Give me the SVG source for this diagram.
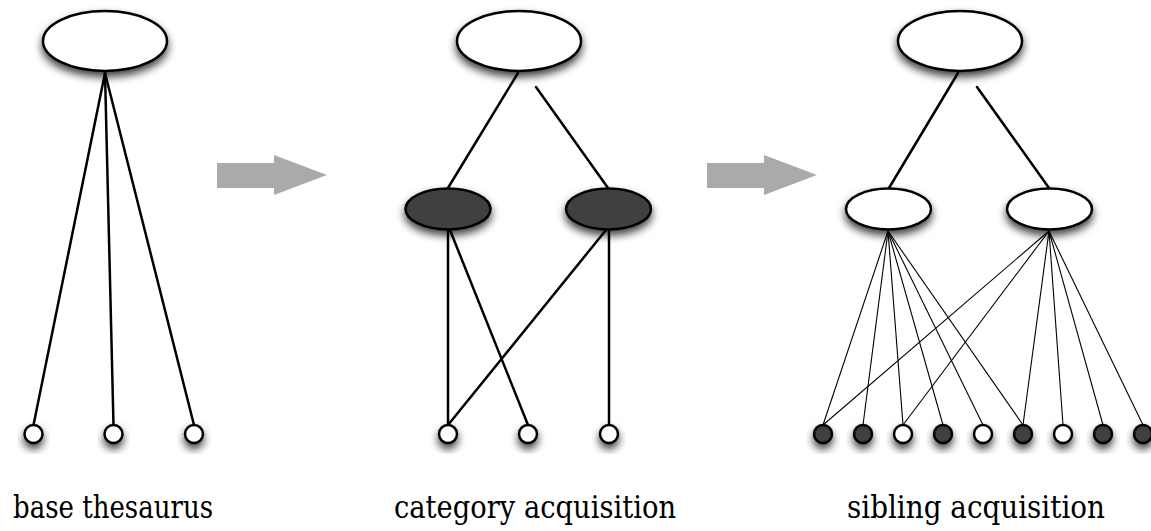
<svg xmlns="http://www.w3.org/2000/svg" width="1151" height="531" viewBox="0 0 1151 531">
  <defs>
    <filter id="shadow" x="-40%" y="-40%" width="180%" height="200%">
      <feDropShadow dx="0" dy="5" stdDeviation="4" flood-color="#000" flood-opacity="0.75"/>
    </filter>
    <style>
      .node { stroke: #000; stroke-width: 2.5; filter: url(#shadow); }
      .light { fill: #fff; }
      .dark { fill: #404040; }
      .edge { stroke: #000; stroke-width: 2.5; fill: none; stroke-linecap: round; }
      .thin { stroke: #000; stroke-width: 1.1; fill: none; }
      .step { fill: #aaaaaa; }
      .caption { font-family: "DejaVu Serif", serif; font-size: 31px; fill: #000; text-anchor: middle; }
    </style>
  </defs>

  <!-- connectors -->
  <g id="connectors">
    <!-- base thesaurus: root to each term -->
    <line class="edge" x1="105" y1="73" x2="33.5" y2="425"/>
    <line class="edge" x1="105" y1="73" x2="113.5" y2="425"/>
    <line class="edge" x1="105" y1="73" x2="194" y2="425"/>

    <!-- category acquisition -->
    <line class="edge" x1="518" y1="73" x2="448" y2="188"/>
    <line class="edge" x1="536" y1="87" x2="608" y2="188"/>
    <line class="edge" x1="448" y1="230" x2="448" y2="425"/>
    <line class="edge" x1="450" y1="230" x2="528" y2="425"/>
    <line class="edge" x1="606" y1="230" x2="448" y2="425"/>
    <line class="edge" x1="609" y1="230" x2="609" y2="425"/>

    <!-- sibling acquisition -->
    <line class="edge" x1="958" y1="73" x2="889" y2="188"/>
    <line class="edge" x1="977" y1="87" x2="1049" y2="188"/>
    <g class="thin">
      <line x1="888" y1="231" x2="823" y2="425"/>
      <line x1="888" y1="231" x2="863" y2="425"/>
      <line x1="888" y1="231" x2="903" y2="425"/>
      <line x1="888" y1="231" x2="943" y2="425"/>
      <line x1="888" y1="231" x2="983" y2="425"/>
      <line x1="888" y1="231" x2="1023" y2="425"/>
      <line x1="1049" y1="231" x2="823" y2="425"/>
      <line x1="1049" y1="231" x2="903" y2="425"/>
      <line x1="1049" y1="231" x2="1023" y2="425"/>
      <line x1="1049" y1="231" x2="1063" y2="425"/>
      <line x1="1049" y1="231" x2="1103" y2="425"/>
      <line x1="1049" y1="231" x2="1143" y2="425"/>
    </g>
  </g>

  <!-- step arrows between stages -->
  <polygon id="arrow-1" class="step" points="217,163 274,163 274,155 327,175 274,195 274,188 217,188"/>
  <polygon id="arrow-2" class="step" points="707,163 764,163 764,155 817,175 764,195 764,188 707,188"/>

  <!-- base thesaurus -->
  <g id="base-root"><ellipse class="node light" cx="105" cy="41" rx="62" ry="30"/></g>
  <g id="base-term-1"><circle class="node light" cx="33.5" cy="434" r="9"/></g>
  <g id="base-term-2"><circle class="node light" cx="113.5" cy="434" r="9"/></g>
  <g id="base-term-3"><circle class="node light" cx="194" cy="434" r="9"/></g>

  <!-- category acquisition -->
  <g id="cat-root"><ellipse class="node light" cx="519" cy="41" rx="62" ry="30"/></g>
  <g id="cat-category-1"><ellipse class="node dark" cx="448" cy="209" rx="42.5" ry="20.5"/></g>
  <g id="cat-category-2"><ellipse class="node dark" cx="608.5" cy="209" rx="42.5" ry="20.5"/></g>
  <g id="cat-term-1"><circle class="node light" cx="448" cy="434" r="9"/></g>
  <g id="cat-term-2"><circle class="node light" cx="528" cy="434" r="9"/></g>
  <g id="cat-term-3"><circle class="node light" cx="609" cy="434" r="9"/></g>

  <!-- sibling acquisition -->
  <g id="sib-root"><ellipse class="node light" cx="960" cy="41" rx="62" ry="30"/></g>
  <g id="sib-category-1"><ellipse class="node light" cx="888.5" cy="209" rx="42.5" ry="20.5"/></g>
  <g id="sib-category-2"><ellipse class="node light" cx="1049.5" cy="209" rx="42.5" ry="20.5"/></g>
  <g id="sib-term-1"><circle class="node dark" cx="823" cy="434" r="9"/></g>
  <g id="sib-term-2"><circle class="node dark" cx="863" cy="434" r="9"/></g>
  <g id="sib-term-3"><circle class="node light" cx="903" cy="434" r="9"/></g>
  <g id="sib-term-4"><circle class="node dark" cx="943" cy="434" r="9"/></g>
  <g id="sib-term-5"><circle class="node light" cx="983" cy="434" r="9"/></g>
  <g id="sib-term-6"><circle class="node dark" cx="1023" cy="434" r="9"/></g>
  <g id="sib-term-7"><circle class="node light" cx="1063" cy="434" r="9"/></g>
  <g id="sib-term-8"><circle class="node dark" cx="1103" cy="434" r="9"/></g>
  <g id="sib-term-9"><circle class="node dark" cx="1143" cy="434" r="9"/></g>

  <!-- captions -->
  <text class="caption" x="113" y="518" textLength="200" lengthAdjust="spacingAndGlyphs">base thesaurus</text>
  <text class="caption" x="535" y="518" textLength="282" lengthAdjust="spacingAndGlyphs">category acquisition</text>
  <text class="caption" x="976" y="518" textLength="258" lengthAdjust="spacingAndGlyphs">sibling acquisition</text>
</svg>
